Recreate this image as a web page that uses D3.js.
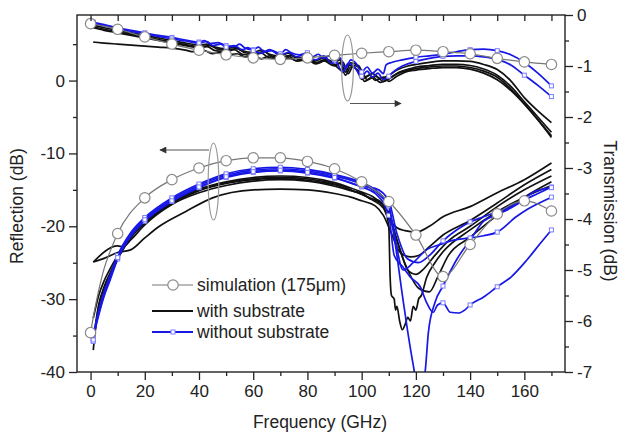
<!DOCTYPE html>
<meta charset="utf-8">
<script src="https://d3js.org/d3.v7.min.js"></script>
<style>
body { margin: 0; background: #fff; }
svg text { font-family: "Liberation Sans", Arial, sans-serif; fill: #222; }
</style>
<div id="chart"></div>
<script>
// ---- data: [frequency GHz, dB] ----
// reflection (left axis)
var reflSim = [[0,-34.6],[1.5,-31.5],[3,-28.8],[5,-25.8],[7.5,-23.2],[10,-21.0],[20,-16.1],[30,-13.6],[40,-12.0],[50,-11.0],[60,-10.6],[70,-10.6],[80,-11.1],[90,-12.1],[100,-13.9],[110,-16.6],[120,-21.2],[130,-26.9],[140,-22.5],[150,-18.3],[160,-16.5],[170,-17.9]];

var reflWithA = [[1,-24.9],[10,-22.7],[12,-22.8],[15,-21.8],[20,-19.8],[30,-17.0],[40,-15.4],[50,-14.4],[60,-13.8],[70,-13.6],[80,-13.8],[90,-14.5],[95,-15],[100,-15.6],[104,-16.4],[108,-17.5],[110,-19],[113,-20.2],[116,-20.6],[120,-20.8],[125,-20.0],[130,-18.7],[140,-17.3],[150,-15.4],[160,-13.6],[170,-11.3]];
var reflWithB = [[1,-24.9],[5,-24.4],[10,-23.6],[15,-23.2],[20,-21.6],[25,-20.1],[35,-18.0],[45,-16.1],[60,-15.0],[70,-14.9],[80,-15.0],[90,-15.5],[96,-16.0],[100,-16.5],[105,-17.2],[108,-18.5],[111,-21],[114,-23.5],[118,-24.2],[121,-24.0],[125,-22.8],[130,-21.2],[140,-19.2],[150,-16.8],[160,-14.3],[170,-12.2]];
var reflWithC = [[1,-37],[2,-33.5],[3,-31],[5,-28.5],[7,-26.8],[10,-24.5],[15,-21.5],[20,-19.6],[30,-16.9],[40,-15.1],[50,-14.1],[60,-13.6],[70,-13.4],[80,-13.7],[90,-14.3],[95,-14.9],[100,-15.6],[103,-16.1],[106,-16.6],[109,-17.4],[111,-19.5],[114,-23],[117,-26],[120,-26.6],[123,-25.8],[127,-24],[132,-22],[140,-20],[150,-17.3],[160,-15],[170,-13.1]];
var reflWithD = [[1,-32.6],[2,-31],[3,-29.5],[5,-27.5],[7,-26],[10,-24],[15,-21.2],[20,-19.3],[30,-16.6],[40,-14.9],[50,-13.9],[60,-13.3],[70,-13.1],[80,-13.3],[90,-14.0],[95,-14.6],[100,-15.3],[104,-15.9],[107,-16.8],[110,-18],[113,-22],[117,-26],[121,-28.5],[125,-29],[128,-27],[132,-24],[140,-21.5],[150,-18.5],[160,-16],[170,-13.9]];
var reflWithE = [[1,-36],[2,-33],[3,-30.8],[5,-28.3],[7,-26.6],[10,-24.3],[15,-21.4],[20,-19.5],[30,-16.8],[40,-15.0],[50,-14.0],[60,-13.5],[70,-13.3],[80,-13.5],[90,-14.2],[94,-14.6],[97,-15.2],[100,-15.4],[103,-16.2],[106,-16.4],[108,-17.2],[110,-20],[110.5,-27],[111,-29.5],[112,-30],[112.5,-31.5],[113,-31],[114,-33],[115,-34.2],[116,-33.5],[117,-32.5],[118,-33],[119,-31],[120,-31.5],[121,-30],[122,-29.5],[124,-27],[127,-25],[130,-23.5],[140,-20.5],[150,-18],[160,-16],[170,-14.4]];

var reflWithoutA = [[1,-35.6],[2,-33.5],[3.3,-31.5],[5,-29.3],[7,-27.3],[10,-24.2],[15,-21.0],[20,-19.0],[30,-16.3],[40,-14.4],[50,-13.0],[60,-12.3],[70,-12.1],[80,-12.4],[90,-13.1],[100,-14.2],[105,-15.2],[110,-17.5],[112,-21.5],[115,-29.4],[117,-34.5],[119,-39],[120,-41],[122,-42],[123.4,-40],[124.6,-34.6],[127,-30.5],[130,-28.2],[135,-24.6],[140,-21.9],[145,-19.3],[150,-18.4],[155,-17.5],[160,-16.4],[165,-15.5],[170,-14.6]];
var reflWithoutB = [[1,-35.8],[2,-33.7],[3.3,-31.8],[5,-29.6],[7,-27.6],[10,-24.5],[15,-21.3],[20,-19.3],[30,-16.6],[40,-14.7],[50,-13.3],[60,-12.6],[70,-12.4],[80,-12.7],[90,-13.4],[100,-14.6],[105,-15.5],[110,-18.5],[112,-24],[115,-25.5],[118,-27],[121.6,-28.3],[124,-30.5],[126.4,-31.8],[128,-30.8],[130,-30.5],[132.7,-31.8],[135.7,-31.9],[138,-31.5],[140,-30.8],[145,-29.7],[150,-28.3],[155,-27.0],[161,-24.6],[166,-22.3],[170,-20.5]];
var reflWithoutC = [[1,-35.4],[2,-33.2],[3.3,-31.2],[5,-29.0],[7,-27.0],[10,-24.0],[15,-20.8],[20,-18.8],[30,-16.1],[40,-14.2],[50,-12.8],[60,-12.1],[70,-11.9],[80,-12.2],[90,-12.9],[100,-14.0],[105,-15.0],[110,-17.2],[112,-21],[115.3,-26.0],[119,-25.0],[124,-23.2],[129,-22.5],[134,-21.9],[140,-21.6],[145,-21.3],[150,-20.8],[157,-18.7],[161,-17.7],[165,-16.9],[170,-16.0]];
var reflWithoutD = [[1,-35.6],[2,-33.4],[3.3,-31.4],[5,-29.2],[7,-27.2],[10,-24.3],[15,-21.1],[20,-19.1],[30,-16.5],[40,-14.6],[50,-13.2],[60,-12.5],[70,-12.3],[80,-12.6],[90,-13.3],[100,-14.5],[105,-14.8],[110,-16.5],[113,-21],[117,-24.5],[121,-25],[125,-24],[130,-22],[135,-20.5],[140,-19.4],[145,-18.7],[150,-18.0],[155,-17.3],[160,-16.2],[163,-15.4],[170,-14.7]];

// transmission (right axis)
var transSim = [[0,-0.17],[10,-0.28],[20,-0.43],[30,-0.57],[40,-0.69],[50,-0.78],[60,-0.84],[70,-0.87],[80,-0.84],[90,-0.79],[100,-0.75],[110,-0.72],[120,-0.69],[130,-0.72],[140,-0.76],[150,-0.85],[160,-0.92],[170,-0.97]];

var transWithA = [[1,-0.53],[5,-0.55],[10,-0.57],[15,-0.59],[20,-0.61],[25,-0.63],[30,-0.65],[35,-0.69],[38,-0.72],[42,-0.7],[45,-0.76],[48,-0.73],[50,-0.78],[54,-0.76],[57,-0.82],[60,-0.8],[63,-0.86],[66,-0.8],[70,-0.88],[73,-0.84],[76,-0.9],[80,-0.86],[83,-0.94],[86,-0.88],[90,-0.98],[93,-1.1],[95,-0.98],[98,-1.05],[100,-1.26],[103,-1.18],[105,-1.28],[108,-1.22],[110,-1.3],[113,-1.2],[116,-1.12],[120,-1.08],[125,-1.05],[130,-1.03],[135,-1.03],[140,-1.06],[145,-1.14],[150,-1.27],[155,-1.48],[160,-1.75],[165,-2.06],[170,-2.4]];
var transWithB = [[1,-0.2],[5,-0.25],[10,-0.3],[15,-0.35],[20,-0.4],[25,-0.45],[30,-0.5],[35,-0.55],[40,-0.59],[43,-0.57],[46,-0.63],[50,-0.66],[53,-0.63],[56,-0.7],[60,-0.73],[63,-0.69],[66,-0.77],[70,-0.8],[73,-0.75],[76,-0.84],[80,-0.82],[83,-0.9],[86,-0.84],[90,-0.93],[92,-0.88],[94,-1.12],[96,-0.94],[99,-1.0],[101,-1.22],[104,-1.15],[107,-1.25],[110,-1.18],[113,-1.08],[117,-1.0],[120,-0.97],[125,-0.93],[130,-0.9],[135,-0.9],[140,-0.91],[145,-0.97],[150,-1.07],[155,-1.29],[160,-1.62],[165,-1.88],[170,-2.11]];
var transWithC = [[1,-0.23],[5,-0.28],[10,-0.33],[15,-0.38],[20,-0.43],[25,-0.48],[30,-0.53],[35,-0.58],[40,-0.62],[44,-0.6],[47,-0.67],[50,-0.69],[54,-0.66],[57,-0.74],[60,-0.76],[64,-0.72],[67,-0.81],[70,-0.83],[74,-0.79],[77,-0.88],[80,-0.86],[84,-0.94],[87,-0.88],[90,-0.97],[93,-0.92],[95,-1.15],[97,-0.99],[100,-1.08],[102,-1.27],[105,-1.2],[108,-1.3],[111,-1.22],[114,-1.12],[118,-1.05],[120,-1.02],[125,-0.99],[130,-0.97],[135,-0.97],[140,-0.99],[145,-1.06],[150,-1.18],[155,-1.4],[160,-1.7],[165,-2.0],[170,-2.3]];
var transWithD = [[1,-0.25],[5,-0.3],[10,-0.35],[15,-0.4],[20,-0.45],[25,-0.5],[30,-0.55],[35,-0.6],[40,-0.64],[43,-0.62],[46,-0.7],[50,-0.72],[53,-0.68],[56,-0.77],[60,-0.79],[63,-0.75],[66,-0.84],[70,-0.85],[73,-0.8],[76,-0.9],[80,-0.88],[83,-0.96],[86,-0.9],[90,-1.0],[92,-0.95],[94,-1.18],[96,-1.02],[99,-1.1],[101,-1.3],[104,-1.22],[107,-1.32],[110,-1.25],[113,-1.15],[117,-1.08],[120,-1.05],[125,-1.02],[130,-1.0],[135,-1.0],[140,-1.03],[145,-1.1],[150,-1.22],[155,-1.45],[160,-1.74],[165,-2.05],[170,-2.37]];

var transWithoutA = [[1,-0.14],[5,-0.19],[10,-0.25],[15,-0.3],[20,-0.35],[25,-0.4],[30,-0.44],[35,-0.49],[40,-0.53],[42,-0.5],[44,-0.56],[47,-0.54],[50,-0.6],[53,-0.62],[55,-0.57],[57,-0.65],[60,-0.68],[62,-0.63],[64,-0.72],[67,-0.7],[70,-0.76],[72,-0.68],[74,-0.74],[77,-0.78],[80,-0.74],[82,-0.82],[84,-0.77],[86,-0.85],[88,-0.8],[90,-0.9],[92,-0.84],[94,-1.05],[96,-0.88],[98,-0.95],[100,-1.12],[102,-1.02],[104,-1.14],[106,-1.06],[108,-1.15],[109,-0.98],[111,-0.93],[115,-0.88],[120,-0.83],[125,-0.8],[130,-0.77],[135,-0.72],[140,-0.68],[145,-0.67],[150,-0.7],[155,-0.78],[160,-0.93],[165,-1.14],[170,-1.39]];
var transWithoutB = [[1,-0.16],[5,-0.21],[10,-0.27],[15,-0.32],[20,-0.37],[25,-0.42],[30,-0.47],[35,-0.51],[40,-0.55],[43,-0.52],[45,-0.6],[48,-0.57],[50,-0.63],[53,-0.6],[56,-0.68],[58,-0.64],[60,-0.7],[63,-0.75],[66,-0.68],[70,-0.79],[73,-0.73],[76,-0.82],[79,-0.77],[80,-0.8],[83,-0.88],[86,-0.8],[89,-0.95],[90,-0.88],[93,-1.12],[95,-0.95],[97,-1.0],[100,-1.2],[102,-1.1],[104,-1.22],[106,-1.14],[108,-1.27],[110,-1.2],[112,-1.1],[115,-1.0],[120,-0.91],[125,-0.85],[130,-0.81],[135,-0.8],[140,-0.8],[145,-0.82],[150,-0.87],[155,-0.98],[160,-1.18],[165,-1.38],[170,-1.6]];

var freqTicks = [0, 20, 40, 60, 80, 100, 120, 140, 160];
var freqMinor = [10, 30, 50, 70, 90, 110, 130, 150, 170];
var reflTicks = [-40, -30, -20, -10, 0];
var reflMinor = [-35, -25, -15, -5, 5];
var transTicks = [0, -1, -2, -3, -4, -5, -6, -7];
var transMinor = [-0.5, -1.5, -2.5, -3.5, -4.5, -5.5, -6.5];
var legendItems = ["simulation (175\u03BCm)", "with substrate", "without substrate"];

// ---- chart ----
var width = 619, height = 435;
var plotL = 77, plotR = 565, plotT = 15, plotB = 372;

var svg = d3.select("#chart").append("svg")
    .attr("width", width)
    .attr("height", height);

var x = d3.scaleLinear().domain([-5, 175]).range([plotL, plotR]);
var yL = d3.scaleLinear().domain([-40, 9]).range([plotB, plotT]);
var yR = d3.scaleLinear().domain([-7, 0]).range([plotB, plotT]);

svg.append("clipPath").attr("id", "plotclip")
  .append("rect")
    .attr("x", plotL).attr("y", plotT)
    .attr("width", plotR - plotL).attr("height", plotB - plotT);

var plot = svg.append("g").attr("clip-path", "url(#plotclip)");

var blue = "#1717e6";
var black = "#111";

function drawLine(data, yScale, color, w) {
  var line = d3.line()
    .x(function(d) { return x(d[0]); })
    .y(function(d) { return yScale(d[1]); })
    .curve(d3.curveMonotoneX);
  plot.append("path")
    .datum(data)
    .attr("d", line)
    .attr("fill", "none")
    .attr("stroke", color)
    .attr("stroke-width", w)
    .attr("stroke-linejoin", "round");
}

function drawSquares(data, yScale) {
  var pts = data.filter(function(d, i) { return i === 0 || d[0] % 10 === 0; });
  plot.append("g").selectAll("rect")
    .data(pts)
    .enter().append("rect")
      .attr("x", function(d) { return x(d[0]) - 2; })
      .attr("y", function(d) { return yScale(d[1]) - 2; })
      .attr("width", 4).attr("height", 4)
      .attr("fill", "#fff")
      .attr("stroke", "#7c7cff")
      .attr("stroke-width", 1);
}

function drawCircles(data, yScale) {
  var pts = data.filter(function(d) { return d[0] % 10 === 0; });
  plot.append("g").selectAll("circle")
    .data(pts)
    .enter().append("circle")
      .attr("cx", function(d) { return x(d[0]); })
      .attr("cy", function(d) { return yScale(d[1]); })
      .attr("r", 5.2)
      .attr("fill", "#fff")
      .attr("stroke", "#8a8a8a")
      .attr("stroke-width", 1.2);
}

// reflection
[reflWithA, reflWithB, reflWithC, reflWithD, reflWithE].forEach(function(c) { drawLine(c, yL, black, 1.7); });
[reflWithoutA, reflWithoutB, reflWithoutC, reflWithoutD].forEach(function(c) { drawLine(c, yL, blue, 1.7); drawSquares(c, yL); });
drawLine(reflSim, yL, "#777", 1.2);
drawCircles(reflSim, yL);

// transmission
[transWithA, transWithB, transWithC, transWithD].forEach(function(c) { drawLine(c, yR, black, 1.7); });
[transWithoutA, transWithoutB].forEach(function(c) { drawLine(c, yR, blue, 1.7); drawSquares(c, yR); });
drawLine(transSim, yR, "#777", 1.2);
drawCircles(transSim, yR);

// ---- axes ----
var fmt = function(d) { return String(d); };
var fontSize = "17px";

svg.append("g").attr("transform", "translate(0," + plotB + ")")
  .call(d3.axisBottom(x).tickValues(freqTicks).tickSize(8).tickPadding(5).tickFormat(fmt));
svg.append("g").attr("transform", "translate(0," + plotB + ")")
  .call(d3.axisBottom(x).tickValues(freqMinor).tickSize(4).tickFormat(""));
svg.append("g").attr("transform", "translate(0," + plotT + ")")
  .call(d3.axisTop(x).tickValues(freqTicks.concat(freqMinor)).tickSize(-6).tickFormat(""));

svg.append("g").attr("transform", "translate(" + plotL + ",0)")
  .call(d3.axisLeft(yL).tickValues(reflTicks).tickSize(8).tickPadding(4).tickFormat(fmt));
svg.append("g").attr("transform", "translate(" + plotL + ",0)")
  .call(d3.axisLeft(yL).tickValues(reflMinor).tickSize(4).tickFormat(""));

svg.append("g").attr("transform", "translate(" + plotR + ",0)")
  .call(d3.axisRight(yR).tickValues(transTicks).tickSize(8).tickPadding(4).tickFormat(fmt));
svg.append("g").attr("transform", "translate(" + plotR + ",0)")
  .call(d3.axisRight(yR).tickValues(transMinor).tickSize(4).tickFormat(""));

svg.selectAll(".domain").remove();
svg.selectAll(".tick line").attr("stroke", "#222").attr("stroke-width", 1.3);
svg.selectAll(".tick text")
  .attr("font-family", "Liberation Sans, Arial, sans-serif")
  .attr("font-size", fontSize)
  .attr("fill", "#222");

// frame
svg.append("rect")
  .attr("x", plotL).attr("y", plotT)
  .attr("width", plotR - plotL).attr("height", plotB - plotT)
  .attr("fill", "none")
  .attr("stroke", "#222")
  .attr("stroke-width", 1.4);

// axis titles
svg.append("text")
  .attr("transform", "translate(23,206) rotate(-90)")
  .attr("text-anchor", "middle")
  .attr("font-size", "17.5px")
  .text("Reflection (dB)");
svg.append("text")
  .attr("transform", "translate(604,211) rotate(90)")
  .attr("text-anchor", "middle")
  .attr("font-size", "17.5px")
  .text("Transmission (dB)");
svg.append("text")
  .attr("x", 320).attr("y", 428)
  .attr("text-anchor", "middle")
  .attr("font-size", "17.5px")
  .text("Frequency (GHz)");

// ---- annotations (ellipses + arrows) ----
var defs = svg.append("defs");
defs.append("marker")
    .attr("id", "arrow")
    .attr("viewBox", "0 0 10 10")
    .attr("refX", 9).attr("refY", 5)
    .attr("markerWidth", 9).attr("markerHeight", 7)
    .attr("markerUnits", "userSpaceOnUse")
    .attr("orient", "auto")
  .append("path")
    .attr("d", "M0,0 L10,5 L0,10 z")
    .attr("fill", "#333");

svg.append("ellipse")
  .attr("cx", 347.5).attr("cy", 68).attr("rx", 5.8).attr("ry", 33)
  .attr("fill", "none").attr("stroke", "#999").attr("stroke-width", 1.2);
svg.append("line")
  .attr("x1", 350).attr("y1", 103.5).attr("x2", 401).attr("y2", 103.5)
  .attr("stroke", "#555").attr("stroke-width", 1.1)
  .attr("marker-end", "url(#arrow)");

svg.append("ellipse")
  .attr("cx", 213.5).attr("cy", 181.5).attr("rx", 5.3).attr("ry", 38.5)
  .attr("fill", "none").attr("stroke", "#999").attr("stroke-width", 1.2);
svg.append("line")
  .attr("x1", 209).attr("y1", 150).attr("x2", 160).attr("y2", 150)
  .attr("stroke", "#555").attr("stroke-width", 1.1)
  .attr("marker-end", "url(#arrow)");

// ---- legend ----
var legend = svg.append("g").attr("transform", "translate(152,285)");
var legendY = [0, 26, 47];
var legendColors = ["#777", black, blue];

legendItems.forEach(function(label, i) {
  var row = legend.append("g").attr("transform", "translate(0," + legendY[i] + ")");
  row.append("line")
    .attr("x1", 0).attr("x2", 41).attr("y1", 0).attr("y2", 0)
    .attr("stroke", legendColors[i])
    .attr("stroke-width", i === 0 ? 1.2 : 2);
  if (i === 0) {
    row.append("circle").attr("cx", 21).attr("cy", 0).attr("r", 5.2)
      .attr("fill", "#fff").attr("stroke", "#8a8a8a").attr("stroke-width", 1.2);
  }
  if (i === 2) {
    row.append("rect").attr("x", 19).attr("y", -2).attr("width", 4).attr("height", 4)
      .attr("fill", "#fff").attr("stroke", "#7c7cff").attr("stroke-width", 1);
  }
  row.append("text")
    .attr("x", 45).attr("y", 6)
    .attr("font-size", "17.5px")
    .text(label);
});
</script>
